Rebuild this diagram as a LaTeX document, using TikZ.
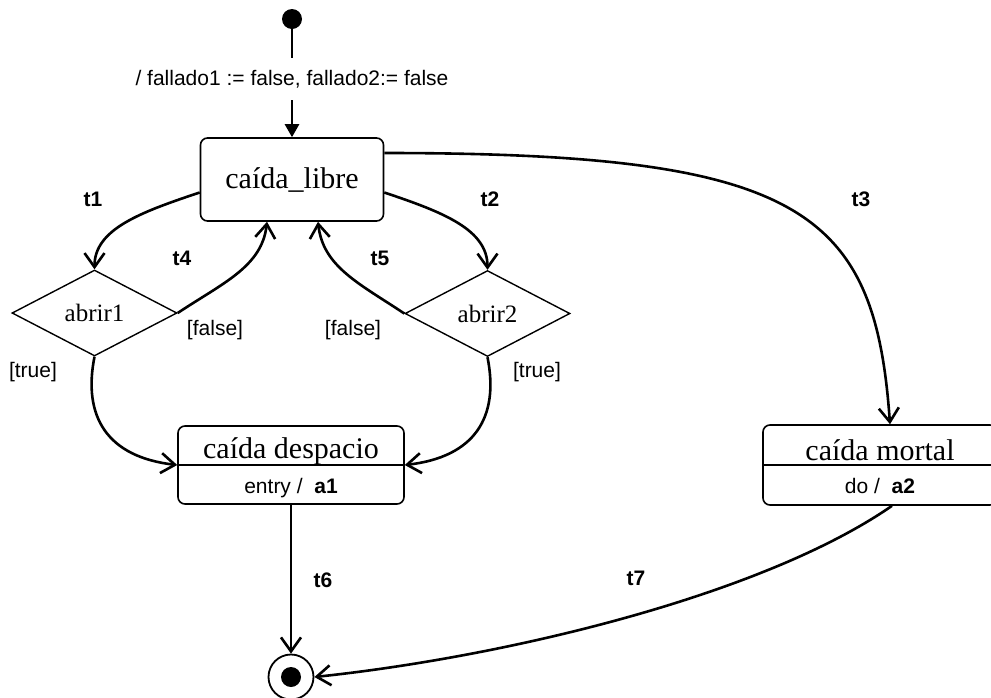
\documentclass[tikz,border=0pt]{standalone}
\usepackage{fontspec}
\setmainfont{Liberation Serif}
\setsansfont{Liberation Sans}
\usetikzlibrary{arrows.meta,shapes.geometric}

\begin{document}
\begin{tikzpicture}[x=1pt,y=-1pt,
    state/.style={draw,line width=1.6pt,rounded corners=7pt,inner sep=0pt,
      font=\fontsize{30}{30}\selectfont},
    choice/.style={draw,shape=diamond,line width=1.4pt,inner sep=0pt,
      minimum width=165pt,minimum height=86pt,font=\fontsize{25}{25}\selectfont},
    sname/.style={font=\fontsize{30}{30}\selectfont,anchor=base,inner sep=0pt},
    lbl/.style={font=\sffamily\fontsize{21}{21}\selectfont,inner sep=0pt},
    tlbl/.style={font=\sffamily\bfseries\fontsize{21}{21}\selectfont,inner sep=0pt},
    trans/.style={line width=2.6pt,-{Straight Barb[length=14pt,width=20pt]}}]
  \useasboundingbox (0,0) rectangle (991,697);

  % states
  \node[circle,fill,inner sep=0pt,minimum size=20pt] (ini) at (292,19) {};
  \node[lbl,minimum height=42pt] (inilbl) at (292,79)
    {/ fallado1 := false, fallado2:= false};
  \node[state,minimum width=183pt,minimum height=83pt] (libre) at (292,179.5) {caída\_libre};
  \node[choice] (abrir1) at (94.5,313) {abrir1};
  \node[choice] (abrir2) at (487.5,313.5) {abrir2};

  \node[state,minimum width=226pt,minimum height=78pt] (desp) at (291,465) {};
  \draw[line width=1.6pt] (desp.west) -- (desp.east);
  \node[sname] (despname) at (291,458) {caída despacio};
  \node[lbl,anchor=base] (despact) at (291,493) {entry /~~\textbf{a1}};

  \node[state,minimum width=234pt,minimum height=80pt] (mortal) at (880,465) {};
  \draw[line width=1.6pt] (mortal.west) -- (mortal.east);
  \node[sname] (mortalname) at (880,460) {caída mortal};
  \node[lbl,anchor=base] (mortalact) at (880,493) {do /~~\textbf{a2}};

  \node[circle,draw,line width=1.8pt,inner sep=0pt,minimum size=45pt] (fin) at (291,677) {};
  \node[circle,fill,inner sep=0pt,minimum size=20pt] (findot) at (fin) {};

  % transitions
  \draw[line width=2.6pt] (ini) -- (inilbl);
  \draw[line width=2.6pt,-{Triangle[length=13pt,width=14pt]}] (inilbl) -- (libre);
  \draw[trans] ([yshift=-13pt]libre.west) .. controls +(-60,20) and +(0,-40) .. (abrir1.north);
  \draw[trans] ([yshift=-13pt]libre.east) .. controls +(60,20) and +(0,-40) .. (abrir2.north);
  \draw[trans] ([yshift=26.5pt]libre.east) .. controls +(417,0) and +(-15,-215) .. ([xshift=10pt]mortal.north);
  \draw[trans] (abrir1.east) .. controls +(45,-30) and +(-5,45) .. ([xshift=-25pt]libre.south);
  \draw[trans] (abrir2.west) .. controls +(-45,-30) and +(5,45) .. ([xshift=26pt]libre.south);
  \draw[trans] (abrir1.south) .. controls +(-12,60) and +(-70,-8) .. (desp.west);
  \draw[trans] (abrir2.south) .. controls +(12,60) and +(70,-8) .. (desp.east);
  \draw[trans] (desp) -- (fin);
  \draw[trans] ([xshift=12pt]mortal.south) .. controls +(-130,90) and +(190,-20) .. (fin.east);

  % labels
  \node[tlbl] (t1) at (93,199) {t1};
  \node[tlbl] (t2) at (490,199) {t2};
  \node[tlbl] (t3) at (861,199) {t3};
  \node[tlbl] (t4) at (182,258) {t4};
  \node[tlbl] (t5) at (380,258) {t5};
  \node[tlbl] (t6) at (323,580) {t6};
  \node[tlbl] (t7) at (636,578) {t7};
  \node[lbl] (false1) at (215,330) {[false]};
  \node[lbl] (true1) at (33,372) {[true]};
  \node[lbl] (false2) at (353,330) {[false]};
  \node[lbl] (true2) at (537,372) {[true]};
\end{tikzpicture}
\end{document}
